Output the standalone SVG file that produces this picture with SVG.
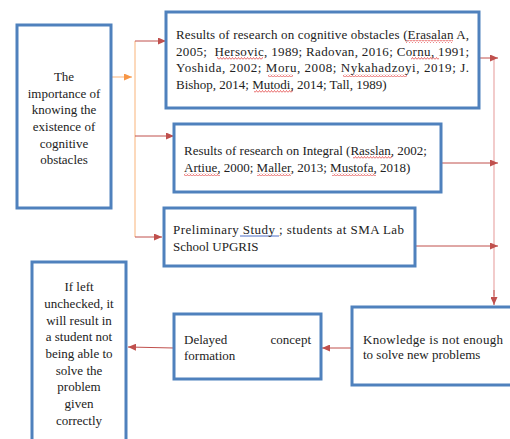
<svg xmlns="http://www.w3.org/2000/svg" width="510" height="439" viewBox="0 0 510 439">
<defs>
<style>
.box{fill:#fff;stroke:#4f81bd;stroke-width:3}
.t{font-family:"Liberation Serif","Times New Roman",serif;font-size:13px;fill:#222}
.c{text-anchor:middle}
.red{stroke:#c0504d;stroke-width:1;fill:none}
.pink{stroke:#eaa9a8;stroke-width:1.2;fill:none}
.org{stroke:#fac08f;stroke-width:1.2;fill:none}
.wv{fill:url(#wave)}
</style>
<marker id="ar" markerWidth="8" markerHeight="7" refX="8" refY="3.5" orient="auto" markerUnits="userSpaceOnUse">
<path d="M0,0 L8,3.5 L0,7 Z" fill="#c0504d"/>
</marker>
<marker id="ao" markerWidth="8" markerHeight="7" refX="8" refY="3.5" orient="auto" markerUnits="userSpaceOnUse">
<path d="M0,0 L8,3.5 L0,7 Z" fill="#f79646"/>
</marker>
<pattern id="wave" width="3" height="3" patternUnits="userSpaceOnUse">
<path d="M0,2.5 L1.5,0.5 L3,2.5" stroke="#e03030" stroke-width="0.7" fill="none"/>
</pattern>
</defs>
<rect width="510" height="439" fill="#fff"/>

<g id="connectors">
<line class="org" x1="111" y1="77" x2="132" y2="77" marker-end="url(#ao)"/>
<line class="org" x1="135" y1="41" x2="135" y2="237"/>
<line class="red" x1="135" y1="41" x2="166" y2="41" marker-end="url(#ar)"/>
<line class="red" x1="135" y1="136" x2="174" y2="136" marker-end="url(#ar)"/>
<line class="red" x1="135" y1="237" x2="162" y2="237" marker-end="url(#ar)"/>
<line class="pink" x1="494" y1="58" x2="494" y2="296"/>
<line class="red" x1="494" y1="290" x2="494" y2="305" marker-end="url(#ar)"/>
<line class="red" x1="479" y1="58" x2="498" y2="58" marker-end="url(#ar)"/>
<line class="red" x1="441" y1="163" x2="498" y2="163" marker-end="url(#ar)"/>
<line class="red" x1="415" y1="246" x2="498" y2="246" marker-end="url(#ar)"/>
<line class="red" x1="352" y1="348" x2="322" y2="348" marker-end="url(#ar)"/>
<line class="red" x1="174" y1="348" x2="128" y2="347" marker-end="url(#ar)"/>
</g>

<g id="importance">
<rect class="box" x="17" y="25" width="94" height="183"/>
<text class="t c" x="64"><tspan x="64" y="81">The</tspan><tspan x="64" y="98">importance of</tspan><tspan x="64" y="114">knowing the</tspan><tspan x="64" y="131">existence of</tspan><tspan x="64" y="148">cognitive</tspan><tspan x="64" y="164">obstacles</tspan></text>
</g>

<g id="cognitive">
<rect class="box" x="166" y="12" width="313" height="96"/>
<rect class="wv" x="405" y="40" width="48" height="3"/>
<rect class="wv" x="217" y="57" width="46" height="3"/>
<rect class="wv" x="411" y="57" width="28" height="3"/>
<rect class="wv" x="268" y="74" width="25" height="3"/>
<rect class="wv" x="343" y="74" width="64" height="3"/>
<rect class="wv" x="254" y="90" width="39" height="3"/>
<text class="t" x="176" y="39" textLength="293" lengthAdjust="spacing">Results of research on cognitive obstacles (Erasalan A,</text>
<text class="t" x="176" y="56" textLength="293" lengthAdjust="spacing" xml:space="preserve">2005;  Hersovic, 1989; Radovan, 2016; Cornu, 1991;</text>
<text class="t" x="176" y="72" textLength="293" lengthAdjust="spacing">Yoshida, 2002; Moru, 2008; Nykahadzoyi, 2019; J.</text>
<text class="t" x="176" y="89">Bishop, 2014; Mutodi, 2014; Tall, 1989)</text>
</g>

<g id="integral">
<rect class="box" x="174" y="124" width="267" height="68"/>
<rect class="wv" x="353" y="156" width="39" height="3"/>
<rect class="wv" x="184" y="173" width="36" height="3"/>
<rect class="wv" x="257" y="173" width="34" height="3"/>
<rect class="wv" x="332" y="173" width="44" height="3"/>
<text class="t" x="184" y="155">Results of research on Integral (Rasslan, 2002;</text>
<text class="t" x="184" y="172">Artiue, 2000; Maller, 2013; Mustofa, 2018)</text>
</g>

<g id="preliminary">
<rect class="box" x="164" y="208" width="251" height="58"/>
<line x1="240" y1="236" x2="279" y2="236" stroke="#4f6fc6" stroke-width="1"/>
<text class="t" x="173" y="234" textLength="231" lengthAdjust="spacing">Preliminary Study ; students at SMA Lab</text>
<text class="t" x="173" y="251">School UPGRIS</text>
</g>

<g id="knowledge">
<rect class="box" x="352" y="307" width="162" height="78"/>
<text class="t" x="363" y="344" textLength="140" lengthAdjust="spacing">Knowledge is not enough</text>
<text class="t" x="363" y="359">to solve new problems</text>
</g>

<g id="delayed">
<rect class="box" x="174" y="314" width="147" height="65"/>
<text class="t" x="184" y="344">Delayed</text>
<text class="t" x="311" y="344" text-anchor="end">concept</text>
<text class="t" x="184" y="360">formation</text>
</g>

<g id="unchecked">
<rect class="box" x="32" y="262" width="94" height="190"/>
<text class="t c"><tspan x="79" y="291">If left</tspan><tspan x="79" y="308">unchecked, it</tspan><tspan x="79" y="325">will result in</tspan><tspan x="79" y="341">a student not</tspan><tspan x="79" y="358">being able to</tspan><tspan x="79" y="375">solve the</tspan><tspan x="79" y="391">problem</tspan><tspan x="79" y="408">given</tspan><tspan x="79" y="425">correctly</tspan></text>
</g>
</svg>
